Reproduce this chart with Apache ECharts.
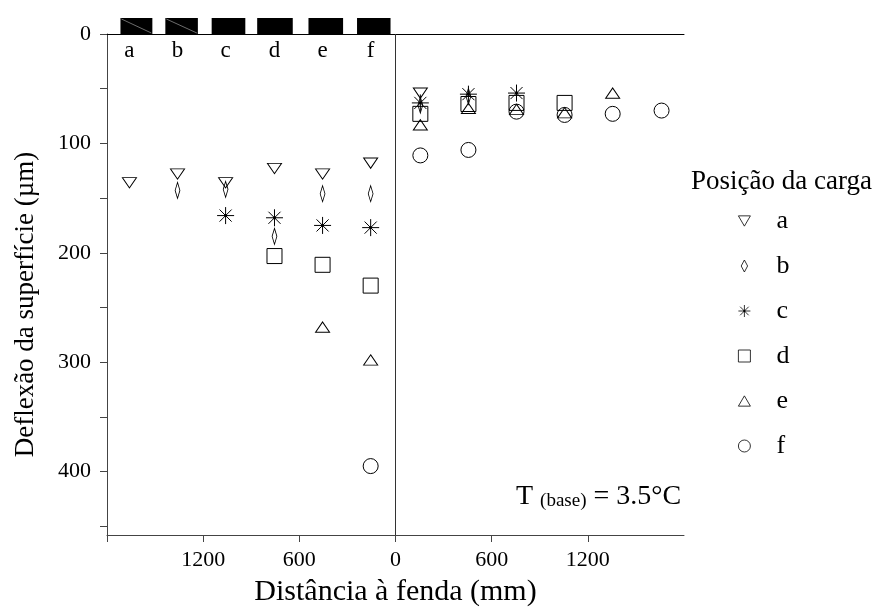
<!DOCTYPE html>
<html><head><meta charset="utf-8">
<script src="https://cdn.jsdelivr.net/npm/echarts@6/dist/echarts.min.js"></script>
<style>html,body{margin:0;padding:0;background:#fff}#c{width:881px;height:612px}</style>
</head><body><div id="c"></div>
<script>
const FONT = '"Liberation Serif", "Times New Roman", serif';
const loadNames = ['a', 'b', 'c', 'd', 'e', 'f'];
const leftPos = [-1660, -1360, -1060, -755, -455, -155];
const rightPos = [155, 455, 755, 1055, 1355, 1660];
const aLeft = [136, 128, 136, 123, 128, 118];
const aRight = [54];
const bLeft = [143, 142, 185, 146, 146];
const bRight = [65, 57];
const cLeft = [166, 168, 175, 177];
const cRight = [63, 55, 54];
const dLeft = [203, 211, 230];
const dRight = [73, 64, 63, 63];
const eLeft = [268, 298];
const eRight = [83, 68, 69, 72, 54];
const fLeft = [395];
const fRight = [111, 106, 71, 74, 73, 70];
const padStart = [-1716, -1436, -1147, -863, -543, -240];
const padEnd = [-1517, -1233, -937, -641, -327, -31];
const padHatched = [true, true, false, false, false, false];
const xTickValues = [-1800, -1200, -600, 0, 600, 1200];
const xLabelValues = [-1200, -600, 0, 600, 1200];
const yTickValues = [0, 50, 100, 150, 200, 250, 300, 350, 400, 450];
const yLabelValues = [0, 100, 200, 300, 400];

const leftVals = [aLeft, bLeft, cLeft, dLeft, eLeft, fLeft];
const rightVals = [aRight, bRight, cRight, dRight, eRight, fRight];

const symbols = [
  { symbol: 'path://M0,0 L14,0 L7,12 Z', size: [14, 12], fill: 'transparent' },
  { symbol: 'path://M4,0 L8,7.5 L4,15 L0,7.5 Z', size: [9, 16], fill: 'transparent' },
  { symbol: 'path://M0,8 L16,8 M8,0 L8,16 M2.3,2.3 L13.7,13.7 M13.7,2.3 L2.3,13.7 M7.2,7.2 L8.8,7.2 L8.8,8.8 L7.2,8.8 Z', size: [17, 17], fill: '#000' },
  { symbol: 'rect', size: [15, 15], fill: 'transparent' },
  { symbol: 'path://M7,0 L14,12 L0,12 Z', size: [14, 12], fill: 'transparent' },
  { symbol: 'circle', size: [15, 15], fill: 'transparent' }
];

const scatterSeries = loadNames.map((name, i) => {
  const pts = [];
  leftVals[i].forEach((v, k) => pts.push([leftPos[i + k], v]));
  rightVals[i].forEach((v, k) => pts.push([rightPos[k], v]));
  const s = {
    name: name,
    type: 'scatter',
    data: pts,
    symbol: symbols[i].symbol,
    symbolSize: symbols[i].size,
    symbolKeepAspect: true,
    itemStyle: { color: symbols[i].fill, borderColor: '#000', borderWidth: 1, opacity: 1 },
    emphasis: { disabled: true },
    z: 3
  };
  if (i === 0) {
    s.markLine = {
      silent: true, symbol: 'none', animation: false,
      label: { show: false },
      lineStyle: { color: '#333', type: 'solid', width: 1 },
      data: [{ xAxis: 0 }]
    };
  }
  return s;
});

const padData = padStart.map((s, i) => [s, padEnd[i], leftPos[i], padHatched[i] ? 1 : 0, i]);

const padSeries = {
  type: 'custom',
  clip: false,
  silent: true,
  data: padData,
  encode: { x: [0, 1] },
  renderItem: function (params, api) {
    const p0 = api.coord([api.value(0), 0]);
    const p1 = api.coord([api.value(1), 0]);
    const pc = api.coord([api.value(2), 0]);
    const h = 16;
    const children = [{
      type: 'rect',
      shape: { x: p0[0], y: p0[1] - h, width: p1[0] - p0[0], height: h },
      style: { fill: '#000' }
    }, {
      type: 'text',
      style: {
        text: loadNames[api.value(4)], x: pc[0], y: p0[1] + 17,
        align: 'center', verticalAlign: 'middle',
        font: '23px ' + FONT, fill: '#000'
      }
    }];
    if (api.value(3)) {
      children.push({
        type: 'line',
        shape: { x1: p0[0] + 1, y1: p0[1] - h + 1, x2: p1[0] - 1, y2: p0[1] - 1 },
        style: { stroke: '#888', lineWidth: 0.8 }
      });
    }
    return { type: 'group', children: children };
  },
  z: 4
};

const chart = echarts.init(document.getElementById('c'), null, { renderer: 'canvas' });
chart.setOption({
  animation: false,
  backgroundColor: '#fff',
  textStyle: { fontFamily: FONT },
  grid: { left: 107, right: 197, top: 34, bottom: 71, containLabel: false },
  xAxis: [{
    type: 'value', min: -1800, max: 1800, position: 'bottom',
    name: 'Distância à fenda (mm)', nameLocation: 'middle', nameGap: 42,
    nameTextStyle: { fontSize: 30, fontFamily: FONT, color: '#000' },
    axisLine: { show: true, onZero: false, lineStyle: { color: '#444', width: 1 } },
    axisTick: { show: true, length: 7, customValues: xTickValues, lineStyle: { color: '#444' } },
    axisLabel: {
      customValues: xLabelValues, margin: 14, fontSize: 22, fontFamily: FONT, color: '#000',
      formatter: v => String(Math.abs(v))
    },
    splitLine: { show: false }
  }, {
    type: 'value', min: -1800, max: 1800, position: 'top',
    axisLine: { show: true, onZero: false, lineStyle: { color: '#000', width: 1 } },
    axisTick: { show: false }, axisLabel: { show: false }, splitLine: { show: false }
  }],
  yAxis: {
    type: 'value', min: 0, max: 458, inverse: true,
    name: 'Deflexão da superfície (µm)', nameLocation: 'middle', nameGap: 68,
    nameTextStyle: { fontSize: 27, fontFamily: FONT, color: '#000', padding: [0, 40, 0, 0] },
    axisLine: { show: true, onZero: false, lineStyle: { color: '#444', width: 1 } },
    axisTick: { show: true, length: 7, customValues: yTickValues, lineStyle: { color: '#444' } },
    axisLabel: { customValues: yLabelValues, margin: 16, fontSize: 22, fontFamily: FONT, color: '#000' },
    splitLine: { show: false }
  },
  legend: {
    data: loadNames,
    orient: 'vertical',
    left: 733, top: 203,
    itemWidth: 12, itemHeight: 12, itemGap: 19,
    selectedMode: false,
    itemStyle: { borderWidth: 0.8, borderColor: '#000' },
    textStyle: { fontSize: 26, fontFamily: FONT, color: '#000', padding: [0, 0, 0, 21], lineHeight: 26 }
  },
  graphic: [{
    type: 'text', left: 691, top: 168,
    style: { text: 'Posição da carga', font: '27px ' + FONT, fill: '#000' }
  }, {
    type: 'text', left: 516, top: 483,
    style: {
      text: '{a|T }{b|(base)}{a| = 3.5°C}',
      rich: {
        a: { fontSize: 28, fontFamily: FONT, fill: '#000', verticalAlign: 'bottom' },
        b: { fontSize: 19, fontFamily: FONT, fill: '#000', verticalAlign: 'bottom' }
      }
    }
  }],
  series: scatterSeries.concat([padSeries])
});
</script>
</body></html>
